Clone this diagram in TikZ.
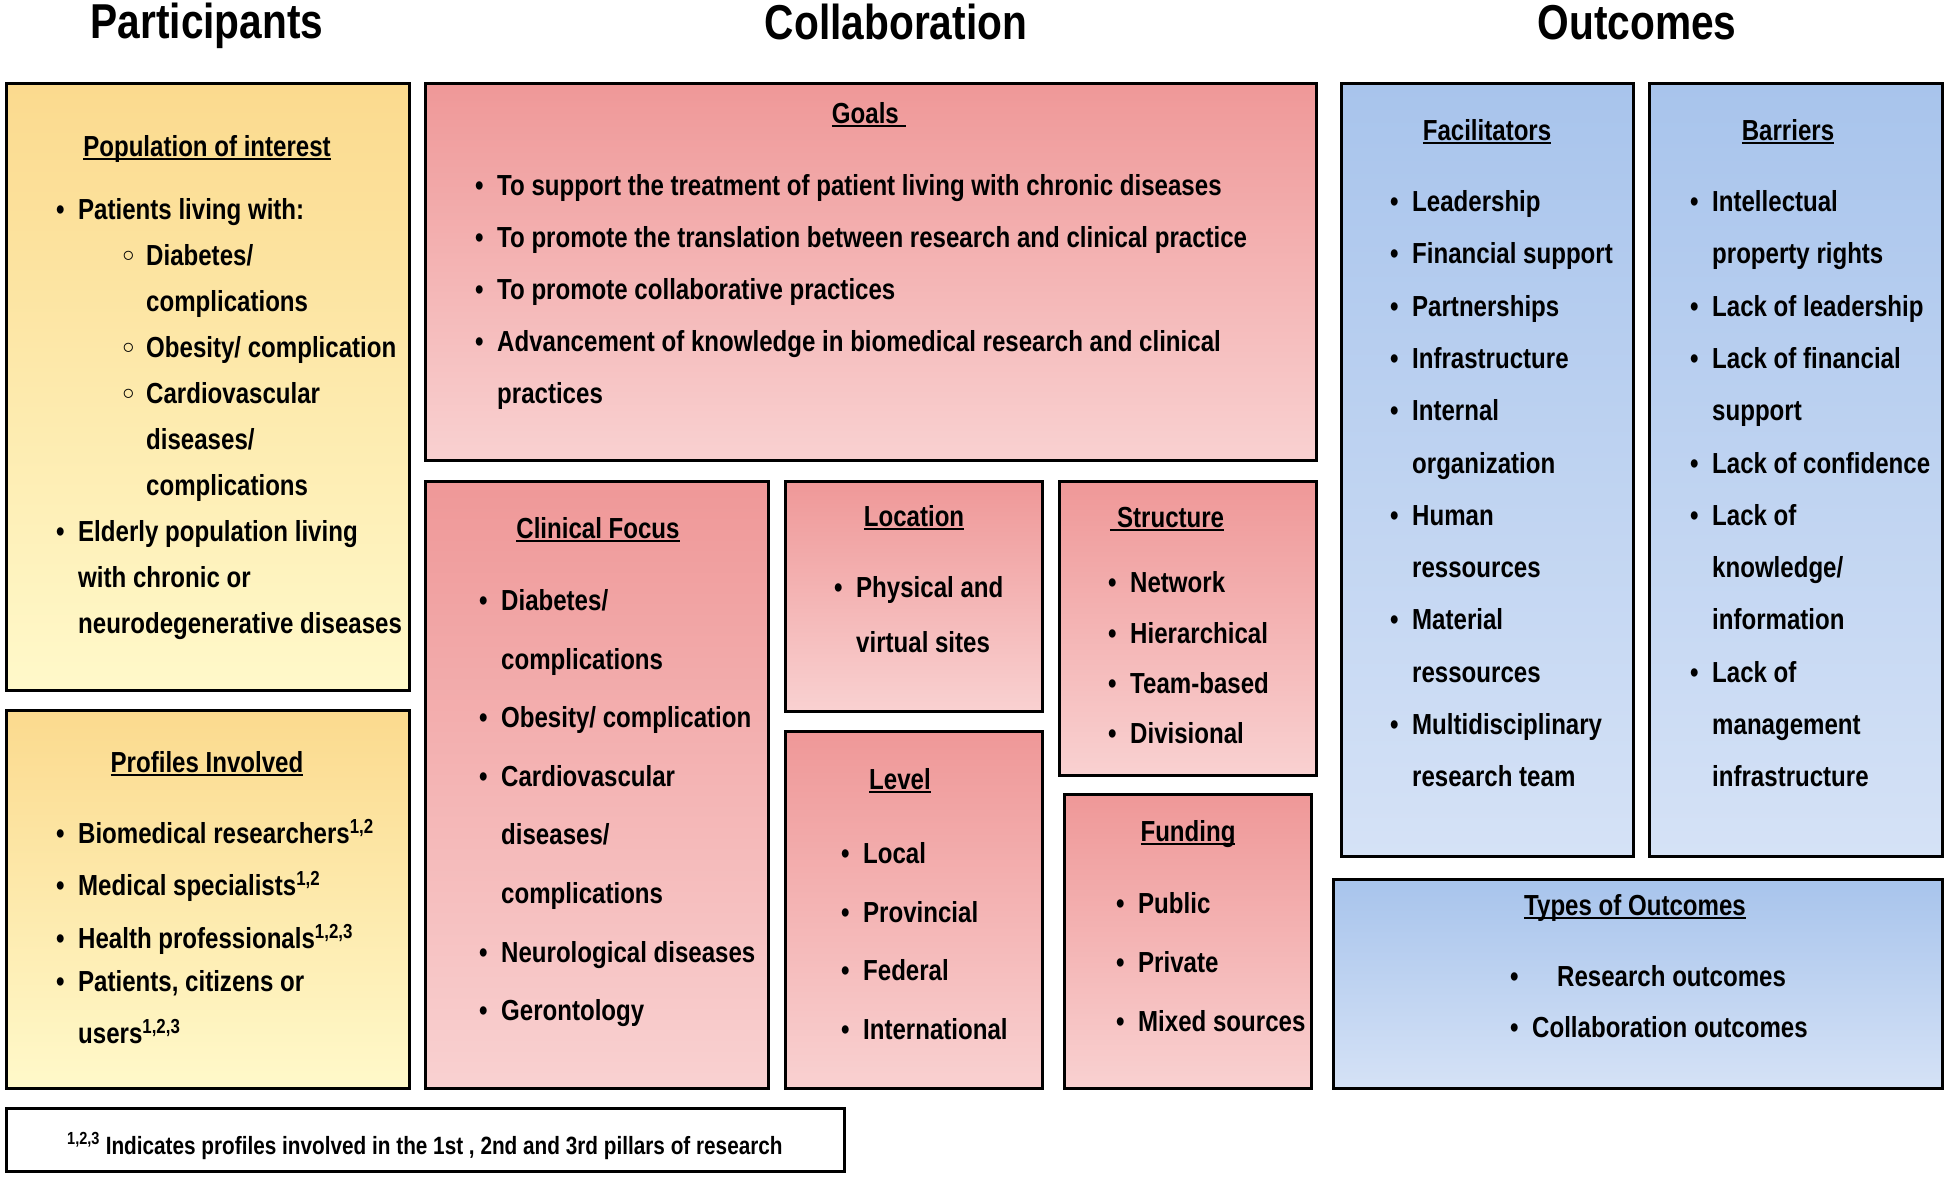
\documentclass[tikz,border=0pt]{standalone}
\usepackage{fontspec}
\newfontfamily\cond[FakeStretch=0.83]{Liberation Sans}
\newfontfamily\dejavu{DejaVu Sans}
\newcommand\bodyfont{\cond\bfseries\fontsize{29}{34}\selectfont}
\newcommand\titlefont{\cond\bfseries\fontsize{49}{56}\selectfont}
\newcommand\footfont{\cond\bfseries\fontsize{25}{30}\selectfont}
\definecolor{yTop}{RGB}{251,218,142}
\definecolor{yBot}{RGB}{255,249,202}
\definecolor{rTop}{RGB}{239,152,152}
\definecolor{rBot}{RGB}{249,209,209}
\definecolor{bTop}{RGB}{168,196,236}
\definecolor{bBot}{RGB}{213,226,246}
\newcommand\iB[1]{\makebox[22pt][l]{•}#1}
\newcommand\iC[1]{\hspace*{22pt}#1}
\newcommand\iS[1]{\hspace*{64pt}\makebox[26pt][l]{{\dejavu\fontsize{26}{30}\selectfont ◦}}#1}
\newcommand\iT[1]{\hspace*{90pt}#1}
\newcommand\iW[1]{\makebox[47pt][l]{•}#1}
\newcommand\uln[1]{\setbox0=\hbox{#1}\rlap{\rule[-4pt]{\wd0}{2.2pt}}\box0}
\newcommand\putlines[3]{\foreach \ly/\lt [count=\i] in {#3} {\node[txt] (#1-\i) at (#2,\ly) {\lt};}}
\begin{document}
\begin{tikzpicture}[x=1pt,y=-1pt,
  box/.style={draw=black, line width=3pt, anchor=north west, inner sep=0pt},
  ybox/.style={box, top color=yTop, bottom color=yBot},
  rbox/.style={box, top color=rTop, bottom color=rBot},
  bbox/.style={box, top color=bTop, bottom color=bBot},
  wbox/.style={box, fill=white},
  hd/.style={anchor=base, inner sep=0pt, font=\bodyfont},
  txt/.style={anchor=base west, inner sep=0pt, font=\bodyfont},
  ttl/.style={anchor=base, inner sep=0pt, font=\titlefont}]
\useasboundingbox (0,0) rectangle (1944,1176);
% titles
\node[ttl] (tpart) at (207,38) {Participants};
\node[ttl] (tcoll) at (896,39) {Collaboration};
\node[ttl] (tout) at (1637,39) {Outcomes};
% boxes
\node[ybox, minimum width=403pt, minimum height=607pt] (pop) at (5,82) {};
\node[ybox, minimum width=403pt, minimum height=378pt] (prof) at (5,709) {};
\node[wbox, minimum width=838pt, minimum height=63pt] (foot) at (5,1107) {};
\node[rbox, minimum width=891pt, minimum height=377pt] (goals) at (424,82) {};
\node[rbox, minimum width=343pt, minimum height=607pt] (clin) at (424,480) {};
\node[rbox, minimum width=257pt, minimum height=230pt] (loc) at (784,480) {};
\node[rbox, minimum width=257pt, minimum height=357pt] (lev) at (784,730) {};
\node[rbox, minimum width=257pt, minimum height=294pt] (str) at (1058,480) {};
\node[rbox, minimum width=247pt, minimum height=294pt] (fund) at (1063,793) {};
\node[bbox, minimum width=292pt, minimum height=773pt] (fac) at (1340,82) {};
\node[bbox, minimum width=293pt, minimum height=773pt] (bar) at (1648,82) {};
\node[bbox, minimum width=609pt, minimum height=209pt] (types) at (1332,878) {};
% headings
\node[hd] (hpop) at (207,156) {\uln{Population of interest}};
\node[hd] (hprof) at (207,772) {\uln{Profiles Involved}};
\node[hd] (hgoals) at (869,123) {\uln{Goals\hspace{0.25em}}};
\node[hd] (hclin) at (598,538) {\uln{Clinical Focus}};
\node[hd] (hloc) at (914,526) {\uln{Location}};
\node[hd] (hstr) at (1167,527) {\uln{\hspace{0.25em}Structure}};
\node[hd] (hlev) at (900,789) {\uln{Level}};
\node[hd] (hfund) at (1188,841) {\uln{Funding}};
\node[hd] (hfac) at (1487,140) {\uln{Facilitators}};
\node[hd] (hbar) at (1788,140) {\uln{Barriers}};
\node[hd] (htypes) at (1635,915) {\uln{Types of Outcomes}};
% body lines
\putlines{lpop}{56}{219/{\iB{Patients living with:}}, 265/{\iS{Diabetes/}}, 311/{\iT{complications}}, 357/{\iS{Obesity/ complication}}, 403/{\iS{Cardiovascular}}, 449/{\iT{diseases/}}, 495/{\iT{complications}}, 541/{\iB{Elderly population living}}, 587/{\iC{with chronic or}}, 633/{\iC{neurodegenerative diseases}}}
\putlines{lprof}{56}{843/{\iB{Biomedical researchers\textsuperscript{1,2}}}, 895/{\iB{Medical specialists\textsuperscript{1,2}}}, 948/{\iB{Health professionals\textsuperscript{1,2,3}}}, 991/{\iB{Patients, citizens or}}, 1043/{\iC{users\textsuperscript{1,2,3}}}}
\putlines{lgoals}{475}{195/{\iB{To support the treatment of patient living with chronic diseases}}, 247/{\iB{To promote the translation between research and clinical practice}}, 299/{\iB{To promote collaborative practices}}, 351/{\iB{Advancement of knowledge in biomedical research and clinical}}, 403/{\iC{practices}}}
\putlines{lclin}{479}{610/{\iB{Diabetes/}}, 669/{\iC{complications}}, 727/{\iB{Obesity/ complication}}, 786/{\iB{Cardiovascular}}, 844/{\iC{diseases/}}, 903/{\iC{complications}}, 962/{\iB{Neurological diseases}}, 1020/{\iB{Gerontology}}}
\putlines{lloc}{834}{597/{\iB{Physical and}}, 652/{\iC{virtual sites}}}
\putlines{llev}{841}{863/{\iB{Local}}, 922/{\iB{Provincial}}, 980/{\iB{Federal}}, 1039/{\iB{International}}}
\putlines{lstr}{1108}{592/{\iB{Network}}, 643/{\iB{Hierarchical}}, 693/{\iB{Team-based}}, 743/{\iB{Divisional}}}
\putlines{lfund}{1116}{913/{\iB{Public}}, 972/{\iB{Private}}, 1031/{\iB{Mixed sources}}}
\putlines{lfac}{1390}{211/{\iB{Leadership}}, 263/{\iB{Financial support}}, 316/{\iB{Partnerships}}, 368/{\iB{Infrastructure}}, 420/{\iB{Internal}}, 473/{\iC{organization}}, 525/{\iB{Human}}, 577/{\iC{ressources}}, 629/{\iB{Material}}, 682/{\iC{ressources}}, 734/{\iB{Multidisciplinary}}, 786/{\iC{research team}}}
\putlines{lbar}{1690}{211/{\iB{Intellectual}}, 263/{\iC{property rights}}, 316/{\iB{Lack of leadership}}, 368/{\iB{Lack of financial}}, 420/{\iC{support}}, 473/{\iB{Lack of confidence}}, 525/{\iB{Lack of}}, 577/{\iC{knowledge/}}, 629/{\iC{information}}, 682/{\iB{Lack of}}, 734/{\iC{management}}, 786/{\iC{infrastructure}}}
\putlines{ltypes}{1510}{986/{\iW{Research outcomes}}, 1037/{\iB{Collaboration outcomes}}}
\node[txt, font=\footfont] (lfoot) at (67,1154) {\textsuperscript{1,2,3} Indicates profiles involved in the 1st , 2nd and 3rd pillars of research};
\end{tikzpicture}
\end{document}
